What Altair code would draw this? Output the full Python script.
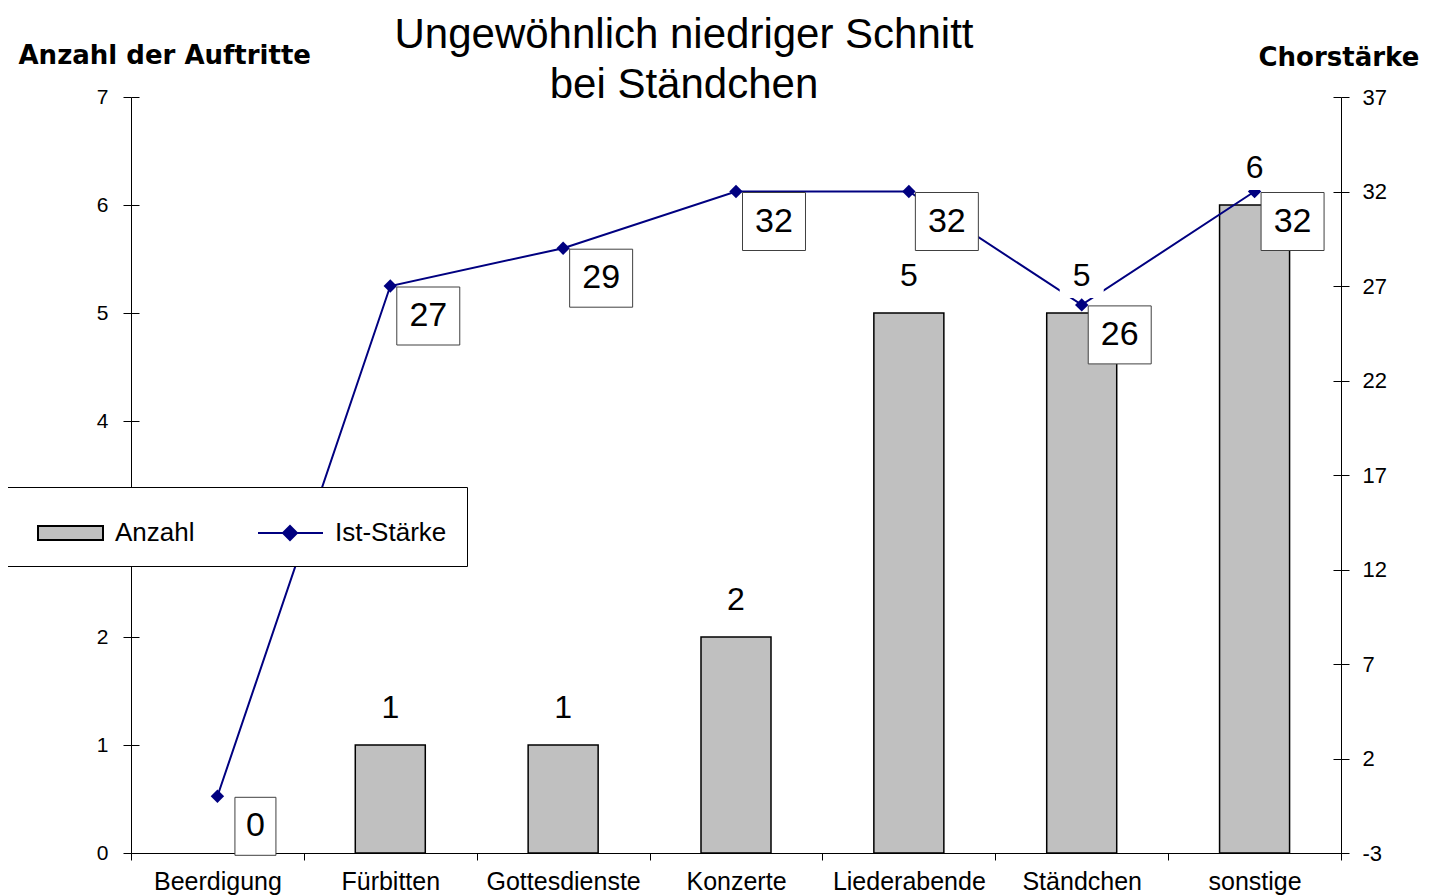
import altair as alt
import pandas as pd

# ---- data ----
categories = ["Beerdigung", "Fürbitten", "Gottesdienste", "Konzerte",
              "Liederabende", "Ständchen", "sonstige"]
anzahl = [0, 1, 1, 2, 5, 5, 6]
ist_staerke = [0, 27, 29, 32, 32, 26, 32]
left_ticks = [0, 1, 2, 3, 4, 5, 6, 7]
right_ticks = [-3, 2, 7, 12, 17, 22, 27, 32, 37]
series_names = ["Anzahl", "Ist-Stärke"]
title_lines = ["Ungewöhnlich niedriger Schnitt", "bei Ständchen"]
left_title = "Anzahl der Auftritte"
right_title = "Chorstärke"

df = pd.DataFrame({"kategorie": categories, "anzahl": anzahl, "staerke": ist_staerke})
legend_df = pd.DataFrame({"serie": series_names})

FONT = "Liberation Sans"
BOLDFONT = "DejaVu Sans"
NAVY = "#000080"
GRAY = "#C0C0C0"

x_enc = alt.X(
    "kategorie:N", sort=categories,
    scale=alt.Scale(paddingInner=0, paddingOuter=0),
    axis=alt.Axis(title=None, labelAngle=0, tickBand="extent", labelFontSize=25,
                  labelFont=FONT, labelColor="black", tickSize=7, labelPadding=9,
                  domainColor="black", tickColor="black", grid=False),
)

left_scale = alt.Scale(domain=[0, 7], nice=False, zero=False)
right_scale = alt.Scale(domain=[-3, 37], nice=False, zero=False)

y_left_axis = alt.Axis(
    orient="left", values=left_ticks, title=left_title, titleAngle=0,
    titleX=-113, titleY=-42, titleAlign="left", titleBaseline="middle",
    titleFont=BOLDFONT, titleFontWeight="bold", titleFontSize=26, titleColor="black",
    labelFont=FONT, labelFontSize=21, labelColor="black", tickSize=8, labelPadding=15,
    domainColor="black", tickColor="black", grid=False,
)
y_right_axis = alt.Axis(
    orient="right", values=right_ticks, title=right_title, titleAngle=0,
    titleX=-83, titleY=-40, titleAlign="left", titleBaseline="middle",
    titleFont=BOLDFONT, titleFontWeight="bold", titleFontSize=26, titleColor="black",
    labelFont=FONT, labelFontSize=22, labelColor="black", tickSize=8, labelPadding=13,
    labelExpr="toString(datum.value)",
    domainColor="black", tickColor="black", grid=False,
)
# inner halves of the crossing tick marks
y_left_inner = alt.Axis(orient="left", values=left_ticks, offset=-8, tickSize=8,
                        labels=False, domain=False, title=None, tickColor="black",
                        grid=False)
y_right_inner = alt.Axis(orient="right", values=right_ticks, offset=-8, tickSize=8,
                         labels=False, domain=False, title=None, tickColor="black",
                         grid=False)

base = alt.Chart(df)

bars = base.transform_filter("datum.anzahl > 0").mark_bar(
    color=GRAY, stroke="black", strokeWidth=1.5,
    width=alt.RelativeBandSize(0.405)).encode(
    x=x_enc, y=alt.Y("anzahl:Q", scale=left_scale, axis=y_left_axis))

line = base.mark_line(color=NAVY, strokeWidth=2).encode(
    x=x_enc, y=alt.Y("staerke:Q", scale=right_scale, axis=y_right_axis))

diamonds = base.mark_point(shape="diamond", filled=True, color=NAVY, size=180,
                           opacity=1).encode(
    x=x_enc, y=alt.Y("staerke:Q", scale=right_scale, axis=None))

bar_label_data = base.transform_filter("datum.anzahl > 0")
bar_label_bg = bar_label_data.mark_point(shape="square", filled=True, color="white",
                                         size=1936, opacity=1, yOffset=-37).encode(
    x=x_enc, y=alt.Y("anzahl:Q", scale=left_scale, axis=y_left_inner))
bar_label_text = bar_label_data.mark_text(fontSize=32, font=FONT, color="black",
                                          dy=-37, baseline="middle").encode(
    x=x_enc, y=alt.Y("anzahl:Q", scale=left_scale, axis=None),
    text=alt.Text("anzahl:Q"))

BOX1 = "M-0.707,-1H0.707V1H-0.707Z"
BOX2 = "M-1.086,-1H1.086V1H-1.086Z"
box_single = base.transform_filter("datum.staerke < 10").mark_point(
    shape=BOX1, size=3364, filled=True, fill="white", stroke="#404040",
    strokeWidth=1, opacity=1, xOffset=38, yOffset=30).encode(
    x=x_enc, y=alt.Y("staerke:Q", scale=right_scale, axis=None))
box_double = base.transform_filter("datum.staerke >= 10").mark_point(
    shape=BOX2, size=3364, filled=True, fill="white", stroke="#404040",
    strokeWidth=1, opacity=1, xOffset=38, yOffset=30).encode(
    x=x_enc, y=alt.Y("staerke:Q", scale=right_scale, axis=None))
box_text = base.mark_text(fontSize=34, font=FONT, color="black", dx=38, dy=30,
                          baseline="middle", align="center").encode(
    x=x_enc, y=alt.Y("staerke:Q", scale=right_scale, axis=y_right_inner),
    text=alt.Text("staerke:Q"))

# legend (single boxed legend built from fill/stroke/shape scales)
RECT_SYM = "M-0.6,-0.28H2.0V0.28H-0.6Z"
LINE_SYM = "M-0.6,0H2.0M0.4,0L0.68,-0.28L0.96,0L0.68,0.28Z"
leg = alt.Legend(title=None, orient="none", legendX=-124, legendY=390,
                 direction="horizontal", fillColor="white", strokeColor="black",
                 padding=20, symbolSize=2500, symbolStrokeWidth=2,
                 labelFont=FONT, labelFontSize=26, labelColor="black",
                 labelOffset=36, columnPadding=52, zindex=1)
legend_layer = alt.Chart(legend_df).transform_filter("false").mark_point(
    filled=True, opacity=1).encode(
    fill=alt.Fill("serie:N", scale=alt.Scale(domain=series_names, range=[GRAY, NAVY]), legend=leg),
    stroke=alt.Stroke("serie:N", scale=alt.Scale(domain=series_names, range=["black", NAVY]), legend=leg),
    shape=alt.Shape("serie:N", scale=alt.Scale(domain=series_names, range=[RECT_SYM, LINE_SYM]), legend=leg),
)

chart = alt.layer(
    bars, line, diamonds, bar_label_bg, bar_label_text,
    box_single, box_double, box_text, legend_layer,
).resolve_scale(y="independent").properties(
    width=1210, height=756,
    background="white",
    autosize=alt.AutoSizeParams(type="none"),
    padding={"left": 123, "top": 89, "right": 80, "bottom": 43},
    title=alt.Title(title_lines, fontSize=42, font=FONT, fontWeight="normal",
                    color="black", anchor="middle", frame="group", dx=-52,
                    lineHeight=50, baseline="bottom", offset=-107),
).configure_view(stroke=None).configure_axis(grid=False)

chart.save("out.html", embed_options={"renderer": "svg", "actions": False})
